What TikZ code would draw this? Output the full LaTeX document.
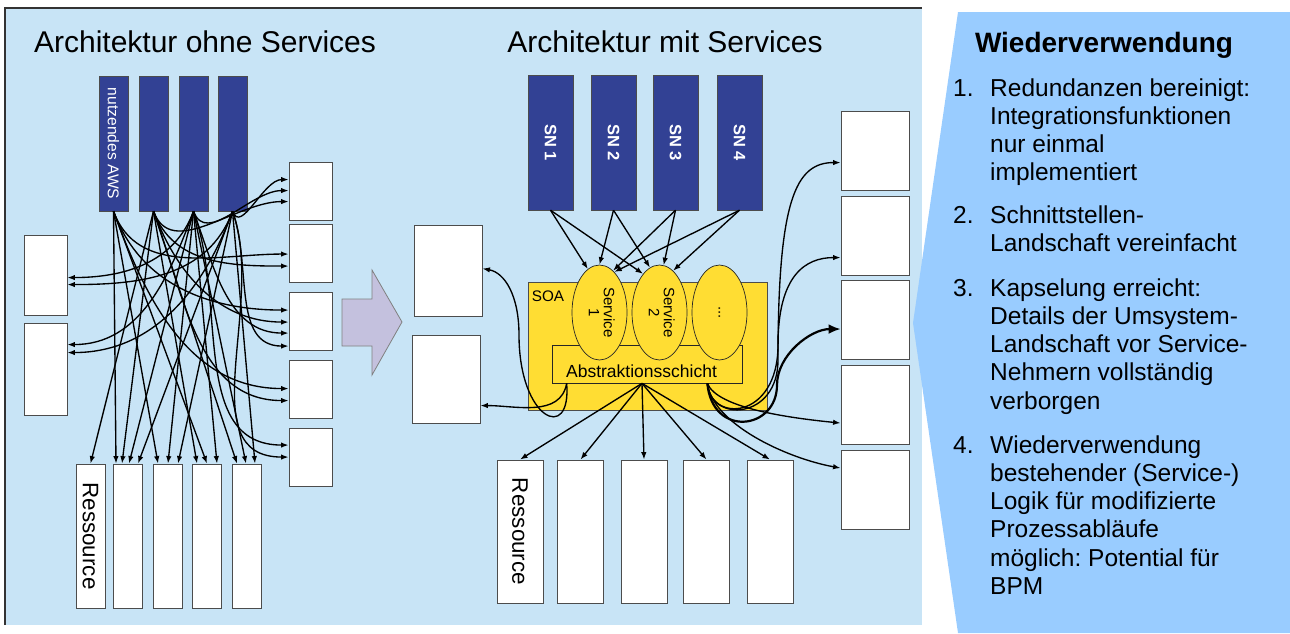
\documentclass[tikz,border=0pt]{standalone}
\usepackage{fontspec}
\setmainfont{Liberation Sans}
\usepackage{graphicx}
\usetikzlibrary{shapes.geometric,arrows.meta,calc}
\definecolor{pnl}{HTML}{C8E4F6}
\definecolor{sidebg}{HTML}{99CCFF}
\definecolor{aws}{HTML}{324194}
\definecolor{soa}{HTML}{FFDD33}
\definecolor{pfeil}{HTML}{C4C1DE}
\frenchspacing
\newcommand{\vtext}[1]{\rotatebox{-90}{#1}}
\newcommand{\plist}[1]{\begin{tabular}[t]{@{}l@{}}#1\end{tabular}}
\tikzset{
  sys/.style={draw=black!70, fill=white, line width=0.9pt, inner sep=0pt},
  bar/.style={draw=black!70, fill=aws, text=white, inner sep=0pt, minimum height=135pt},
  svc/.style={ellipse, draw=black!85, fill=soa, line width=0.7pt, inner sep=0pt,
    minimum width=55pt, minimum height=95pt, font=\fontsize{15}{15}\selectfont},
  lnk/.style={-{Latex[length=7.5pt,width=5.5pt]}, line width=1.35pt},
  fat/.style={-{Latex[length=12pt,width=10pt]}, line width=2.2pt},
  ttl/.style={font=\fontsize{30}{36}\selectfont},
  pnum/.style={anchor=base west, inner sep=0pt, font=\fontsize{24.5}{28.3}\selectfont}}

\begin{document}
\begin{tikzpicture}[x=1pt, y=-1pt]
\useasboundingbox (0,0) rectangle (1290,633);
% Hintergrund
\fill[pnl] (5,8) rectangle (922,625);
\draw[line width=1.2pt, black!80] (5,625) -- (5,8) -- (922,8);
\fill[sidebg] (958,12) -- (913,323) -- (958,633) -- (1290,633) -- (1290,12) -- cycle;

% Architektur ohne Services
\node[ttl, anchor=base] (t1) at (205,52) {Architektur ohne Services};
\node[bar, minimum width=29pt, font=\fontsize{15.6}{18}\selectfont] (b1) at (113.5,143.5) {\vtext{nutzendes AWS}};
\foreach \i/\x in {2/153.5, 3/193.5, 4/232.5}
  \node[bar, minimum width=29pt] (b\i) at (\x,143.5) {};
\foreach \i/\y in {1/191, 2/253.5, 3/321.5, 4/389, 5/457.5}
  \node[sys, minimum width=43pt, minimum height=58pt] (rs\i) at (310.5,\y) {};
\node[sys, minimum width=43pt, minimum height=80pt] (ls1) at (45.5,275) {};
\node[sys, minimum width=43pt, minimum height=92pt] (ls2) at (45.5,369) {};
\node[sys, minimum width=29pt, minimum height=144pt, font=\fontsize{22.4}{26}\selectfont] (lr1) at (90.5,536) {\vtext{Ressource}};
\foreach \i/\x in {2/128, 3/167.5, 4/206.5, 5/246.5}
  \node[sys, minimum width=29pt, minimum height=144pt] (lr\i) at (\x,536) {};

\foreach \src/\dst/\dd in {b1/lr2/-12, b1/lr3/-9.5, b1/lr4/0.5, b2/lr1/0, b2/lr2/-6, b2/lr4/-9.5,
    b2/lr5/-9.5, b3/lr2/1, b3/lr3/0.5, b3/lr4/10.5, b3/lr5/-0.5, b4/lr2/10, b4/lr3/10.5, b4/lr5/8.5}
  \draw[lnk] (\src.south) -- ($(\dst.north)+(\dd,0)$);
\foreach \src/\dst/\dd in {b2/rs1/40, b3/rs1/29, b4/rs1/18, b1/rs2/30, b2/rs2/42, b1/rs3/18, b2/rs3/30,
    b3/rs3/41, b4/rs3/54, b1/rs4/29, b2/rs4/41, b3/rs5/17, b4/rs5/29}
  \draw[lnk] (\src.south) to[out=-70, in=180] ($(\dst.north west)+(0,\dd)$);
\foreach \src/\dst/\dd in {b3/ls1/43, b4/ls1/50, b3/ls2/22, b4/ls2/30}
  \draw[lnk] (\src.south) to[out=-110, in=0] ($(\dst.north east)+(0,\dd)$);

% Pfeil
\draw[gray, fill=pfeil, line width=0.8pt] (342,299) -- (372,299) -- (372,270) -- (402,322)
  -- (372,375) -- (372,346) -- (342,346) -- cycle;

% Architektur mit Services
\node[ttl, anchor=base] (t2) at (665,52) {Architektur mit Services};
\foreach \i/\x in {1/550.5, 2/613.5, 3/675.5, 4/739.5}
  \node[bar, minimum width=45pt, font=\bfseries\fontsize{16.5}{20}\selectfont] (sn\i) at (\x,142.5) {\vtext{SN \i}};
\node[sys, minimum width=68pt, minimum height=91pt] (ml1) at (448,270.5) {};
\node[sys, minimum width=68pt, minimum height=88pt] (ml2) at (446,379) {};
\node[draw=black!70, fill=soa, minimum width=239pt, minimum height=128pt, inner sep=0pt, line width=0.8pt] (soa) at (647.5,346) {};
\node[anchor=base west, inner sep=0pt, font=\fontsize{15.3}{18}\selectfont] (soat) at ($(soa.north west)+(4,20)$) {SOA};
\node[draw=black!85, fill=soa, minimum width=190pt, minimum height=38pt, inner sep=0pt, line width=0.7pt] (abs) at (647,364) {};
\node[svc] (e1) at (599.5,312.5) {\vtext{\begin{tabular}{@{}c@{}}Service\\1\end{tabular}}};
\node[svc] (e2) at (659.5,312.5) {\vtext{\begin{tabular}{@{}c@{}}Service\\2\end{tabular}}};
\node[svc] (e3) at (719.5,312.5) {\vtext{...}};
\node[anchor=base, inner sep=0pt, font=\fontsize{17.5}{20}\selectfont] (abst) at (641.5,377) {Abstraktionsschicht};
\node[sys, minimum width=46pt, minimum height=143pt, font=\fontsize{22.4}{26}\selectfont] (mr1) at (520,531.5) {\vtext{Ressource}};
\foreach \i/\x in {2/580.5, 3/644, 4/706.5, 5/770}
  \node[sys, minimum width=46pt, minimum height=143pt] (mr\i) at (\x,531.5) {};
\foreach \i/\y in {1/150.5, 2/235.5, 3/320, 4/405, 5/490}
  \node[sys, minimum width=68pt, minimum height=79pt] (mrb\i) at (875,\y) {};

\foreach \src/\dst/\a in {sn1/e1/105, sn1/e2/113, sn2/e1/90, sn2/e2/102, sn3/e1/72, sn3/e2/85, sn4/e1/70, sn4/e2/72}
  \draw[lnk] (\src.south) -- (\dst.\a);
\coordinate (ap) at ($(abs.south)+(-5,0)$);
\foreach \dst in {mr1,mr2,mr3,mr4,mr5}
  \draw[lnk] (ap) -- (\dst.north);
\coordinate (al) at ($(abs.south west)+(15,0)$);
\coordinate (lp) at (519,335);
\draw[lnk] (al) to[out=-100, in=0] ($(ml2.north east)+(0,71)$);
\draw[lnk] (al) .. controls +(5,60) and +(0,85) .. (lp) .. controls +(0,-40) and +(22,4) .. ($(ml1.north east)+(0,44)$);
\coordinate (ar) at ($(abs.south east)+(-35,0)$);
\coordinate (q1) at (778,360);
\coordinate (q2) at (778,345);
\coordinate (q3) at (777,385);
\draw[lnk] (ar) .. controls +(3,40) and +(0,60) .. (q1) .. controls +(0,-160) and +(-45,0) .. ($(mrb1.north west)+(0,52)$);
\draw[lnk] (ar) .. controls +(3,40) and +(0,75) .. (q2) .. controls +(0,-70) and +(-35,0) .. ($(mrb2.north west)+(0,62)$);
\draw[fat] (ar) .. controls +(5,55) and +(0,45) .. (q3) .. controls +(0,-30) and +(-30,0) .. ($(mrb3.north west)+(0,49)$);
\draw[lnk] (ar) .. controls +(10,25) and +(-50,-5) .. ($(mrb4.north west)+(0,58)$);
\draw[lnk] (ar) .. controls +(5,40) and +(-55,-10) .. ($(mrb5.north west)+(0,18)$);

% Wiederverwendung
\node[anchor=base, font=\bfseries\fontsize{28}{32}\selectfont] (wv) at (1104,52) {Wiederverwendung};
\node[pnum] (n1) at (953,96) {1.};
\node[pnum] (p1) at (990,96) {\plist{Redundanzen bereinigt:\\Integrationsfunktionen\\nur einmal\\implementiert}};
\node[pnum] (n2) at (953,223) {2.};
\node[pnum] (p2) at (990,223) {\plist{Schnittstellen-\\Landschaft vereinfacht}};
\node[pnum] (n3) at (953,296) {3.};
\node[pnum] (p3) at (990,296) {\plist{Kapselung erreicht:\\Details der Umsystem-\\Landschaft vor Service-\\Nehmern vollständig\\verborgen}};
\node[pnum] (n4) at (953,453) {4.};
\node[pnum] (p4) at (990,453) {\plist{Wiederverwendung\\bestehender (Service-)\\Logik für modifizierte\\Prozessabläufe\\möglich: Potential für\\BPM}};
\end{tikzpicture}
\end{document}
